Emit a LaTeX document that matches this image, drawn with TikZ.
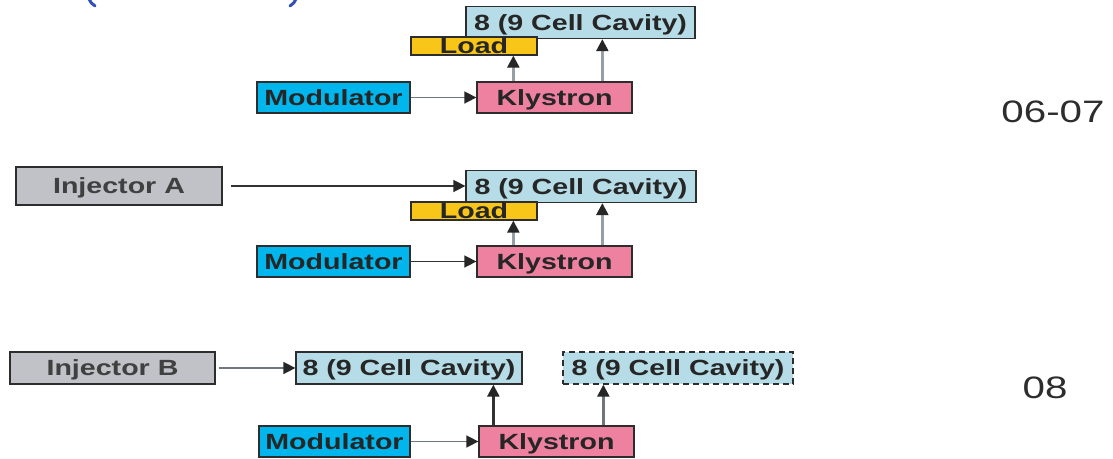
\documentclass[tikz,border=0pt]{standalone}
\usepackage{fontspec}
\setmainfont[FakeStretch=1.3]{Liberation Sans}
\usetikzlibrary{arrows.meta}
\definecolor{cavfill}{RGB}{182,221,231}
\definecolor{loadfill}{RGB}{248,198,24}
\definecolor{modfill}{RGB}{0,182,236}
\definecolor{klyfill}{RGB}{239,129,160}
\definecolor{injfill}{RGB}{192,194,200}
\definecolor{edge}{RGB}{45,45,45}
\definecolor{lgray}{RGB}{150,158,166}
\definecolor{mgray}{RGB}{110,118,126}
\definecolor{dgray}{RGB}{50,50,50}
\definecolor{titleblue}{RGB}{50,80,180}
\definecolor{labelgray}{RGB}{45,45,45}
\tikzset{
  box/.style={draw=edge, line width=1.3pt, inner sep=0pt, text=black!85,
    text height=15.5pt, text depth=0pt,
    font=\bfseries\fontsize{22}{24}\selectfont},
  cavbox/.style={box, fill=cavfill, minimum width=229pt, minimum height=32pt},
  loadbox/.style={box, fill=loadfill, minimum width=126pt, minimum height=18pt, text height=14pt},
  modbox/.style={box, fill=modfill, minimum width=153pt, minimum height=31pt},
  klybox/.style={box, fill=klyfill, minimum width=155pt, minimum height=31pt},
  injbox/.style={box, fill=injfill, text=black!75},
  arr/.style={line width=2.4pt, -{Triangle[length=12pt,width=12pt,color=black!85]}},
  yearlabel/.style={text=labelgray, inner sep=0pt, font=\fontsize{31}{33}\selectfont}
}
\begin{document}
\begin{tikzpicture}[x=1pt,y=-1pt]
\useasboundingbox (0,0) rectangle (1113,458);
\fill[white] (0,0) rectangle (1113,458);
% cut-off title parentheses
\draw[titleblue, line width=3pt, line cap=round] (89,-1) .. controls (90,2) and (92,4) .. (95,6);
\draw[titleblue, line width=3pt, line cap=round] (296,-1) .. controls (295,2) and (293,4) .. (290,6);

% ---- row 1 (06-07)
\node[cavbox] (cav1) at (580.5,22.5) {8 (9 Cell Cavity)};
\node[loadbox] (load1) at (474,46) {Load};
\node[modbox] (mod1) at (333.5,97.5) {Modulator};
\node[klybox] (kly1) at (554.5,97.5) {Klystron};
\draw[arr, mgray, line width=1.6pt] (mod1) -- (kly1);
\draw[arr, lgray] ([xshift=37pt]kly1.north west) -- ([xshift=37pt]kly1.north west |- load1.south);
\draw[arr, lgray] ([xshift=126pt]kly1.north west) -- ([xshift=126pt]kly1.north west |- cav1.south);
\node[yearlabel] (y1) at (1053,112) {06-07};

% ---- row 2
\node[injbox, minimum width=206pt, minimum height=38pt] (injA) at (119,186) {Injector A};
\node[cavbox, minimum width=230pt] (cav2) at (581,186.5) {8 (9 Cell Cavity)};
\node[loadbox] (load2) at (474,211) {Load};
\node[modbox] (mod2) at (333.5,261.5) {Modulator};
\node[klybox] (kly2) at (554.5,261.5) {Klystron};
\draw[arr, dgray, line width=1.6pt] ([xshift=8pt]injA.east) -- (injA.east -| cav2.west);
\draw[arr, dgray, line width=1.6pt] (mod2) -- (kly2);
\draw[arr, lgray] ([xshift=37pt]kly2.north west) -- ([xshift=37pt]kly2.north west |- load2.south);
\draw[arr, lgray] ([xshift=126pt]kly2.north west) -- ([xshift=126pt]kly2.north west |- cav2.south);

% ---- row 3 (08)
\node[injbox, minimum width=205pt, minimum height=32pt] (injB) at (112.5,368) {Injector B};
\node[cavbox, minimum width=226pt] (cav3) at (409,368) {8 (9 Cell Cavity)};
\node[cavbox, minimum width=230pt, dash pattern=on 6pt off 4pt] (cav4) at (678,368) {8 (9 Cell Cavity)};
\node[modbox, minimum width=151pt] (mod3) at (334.5,441.5) {Modulator};
\node[klybox] (kly3) at (556.5,441.5) {Klystron};
\draw[arr, mgray, line width=1.6pt] ([xshift=3pt]injB.east) -- (cav3.west);
\draw[arr, mgray, line width=1.6pt] (mod3) -- (kly3);
\draw[arr, dgray] ([xshift=15pt]kly3.north west) -- ([xshift=15pt]kly3.north west |- cav3.south);
\draw[arr, mgray] ([xshift=125pt]kly3.north west) -- ([xshift=125pt]kly3.north west |- cav4.south);
\node[yearlabel] (y2) at (1045,388) {08};
\end{tikzpicture}
\end{document}
